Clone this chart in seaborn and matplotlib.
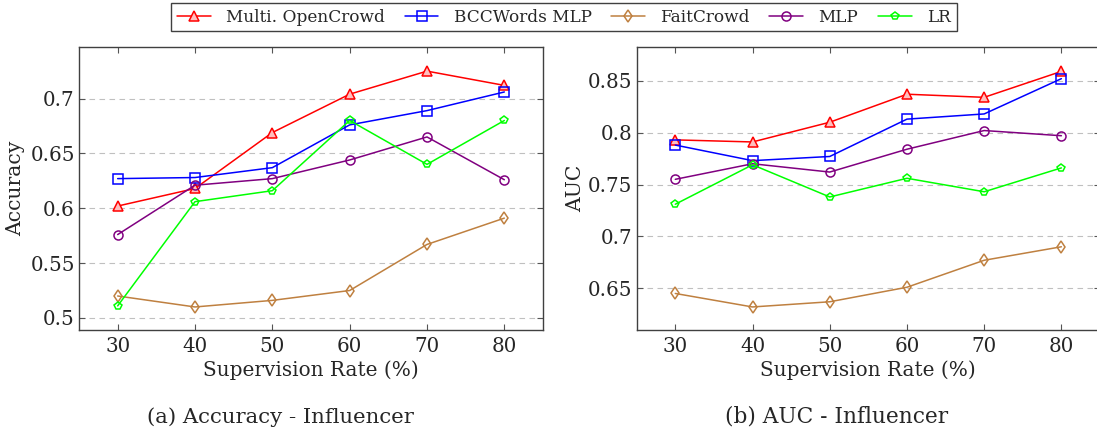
import pandas as pd
import seaborn as sns
import matplotlib.pyplot as plt

# supervision rates on the x axis
rates = [30, 40, 50, 60, 70, 80]
methods = ['Multi. OpenCrowd', 'BCCWords MLP', 'FaitCrowd', 'MLP', 'LR']

# accuracy - influencer
acc_opencrowd = [0.602, 0.618, 0.669, 0.704, 0.725, 0.712]
acc_bccwords = [0.627, 0.628, 0.637, 0.676, 0.689, 0.706]
acc_faitcrowd = [0.520, 0.510, 0.516, 0.525, 0.567, 0.591]
acc_mlp = [0.576, 0.621, 0.627, 0.644, 0.665, 0.626]
acc_lr = [0.511, 0.606, 0.616, 0.680, 0.640, 0.680]

# auc - influencer
auc_opencrowd = [0.793, 0.791, 0.810, 0.837, 0.834, 0.859]
auc_bccwords = [0.788, 0.773, 0.777, 0.813, 0.818, 0.852]
auc_faitcrowd = [0.645, 0.632, 0.637, 0.651, 0.677, 0.690]
auc_mlp = [0.755, 0.770, 0.762, 0.784, 0.802, 0.797]
auc_lr = [0.731, 0.769, 0.738, 0.756, 0.743, 0.766]

acc_values = [acc_opencrowd, acc_bccwords, acc_faitcrowd, acc_mlp, acc_lr]
auc_values = [auc_opencrowd, auc_bccwords, auc_faitcrowd, auc_mlp, auc_lr]

colors = ['#ff0000', '#0000ff', '#bf8040', '#800080', '#00ff00']
markers = ['^', 's', 'd', 'o', 'p']
face_colors = ['#ffbfbf', 'none', 'none', 'none', 'none']
marker_sizes = [6.5, 6.5, 6, 6.5, 6]


def long_table(values):
    rows = []
    for method, series in zip(methods, values):
        for rate, v in zip(rates, series):
            rows.append({'rate': rate, 'value': v, 'method': method})
    return pd.DataFrame(rows)


sns.set_style('ticks')
plt.rcParams['font.family'] = ['DejaVu Serif']
plt.rcParams['font.size'] = 14

fig = plt.figure(figsize=(10.97, 4.37), dpi=100)
W, H = 1097, 437
ax_acc = fig.add_axes([79 / W, (H - 330) / H, 464 / W, 283 / H])
ax_auc = fig.add_axes([636.7 / W, (H - 330) / H, 463.3 / W, 283 / H])

panels = [
    (ax_acc, long_table(acc_values), 'Accuracy', (0.489, 0.747), [0.5, 0.55, 0.6, 0.65, 0.7],
     ['0.5', '0.55', '0.6', '0.65', '0.7']),
    (ax_auc, long_table(auc_values), 'AUC', (0.6098, 0.8825), [0.65, 0.7, 0.75, 0.8, 0.85],
     ['0.65', '0.7', '0.75', '0.8', '0.85']),
]

for ax, df, ylabel, ylim, yticks, ytick_labels in panels:
    for method, color, marker, fc, ms in zip(methods, colors, markers, face_colors, marker_sizes):
        sns.lineplot(data=df[df['method'] == method], x='rate', y='value', ax=ax,
                     color=color, marker=marker, markersize=ms, mfc=fc, mec=color,
                     mew=1.1, linewidth=1.1, errorbar=None, legend=False, zorder=3)
    ax.set_xlim(25, 85)
    ax.set_ylim(*ylim)
    ax.set_xticks(rates)
    ax.set_yticks(yticks)
    ax.set_yticklabels(ytick_labels)
    ax.grid(axis='y', color='#c0c0c0', linestyle=(0, (5, 4)), linewidth=0.8, zorder=0)
    ax.tick_params(direction='in', length=4, width=0.8, color='#555555',
                   top=True, right=True, labelsize=14.3, pad=3)
    ax.tick_params(axis='x', pad=5)
    for sp in ax.spines.values():
        sp.set_color('#404040')
        sp.set_linewidth(1.0)
    ax.set_xlabel('Supervision Rate (%)', fontsize=14.4, labelpad=3)
    ax.set_ylabel(ylabel, fontsize=14.6)

ax_acc.yaxis.set_label_coords(-0.116, 0.5)
ax_auc.yaxis.set_label_coords(-0.112, 0.5)

handles = ax_acc.get_lines()[:5]
fig.legend(handles, methods, loc='upper center', bbox_to_anchor=(0.514, 0.994), ncol=5,
           frameon=True, fancybox=False, edgecolor='#404040', framealpha=1,
           fontsize=12.2, handlelength=2.0, handletextpad=0.9, columnspacing=1.15,
           borderpad=0.35, borderaxespad=0)

fig.text(280 / W, 20 / H, '(a) Accuracy - Influencer', ha='center', va='center', fontsize=15.3)
fig.text(837 / W, 20 / H, '(b) AUC - Influencer', ha='center', va='center', fontsize=15.6)

fig.savefig('out.png', dpi=100)
